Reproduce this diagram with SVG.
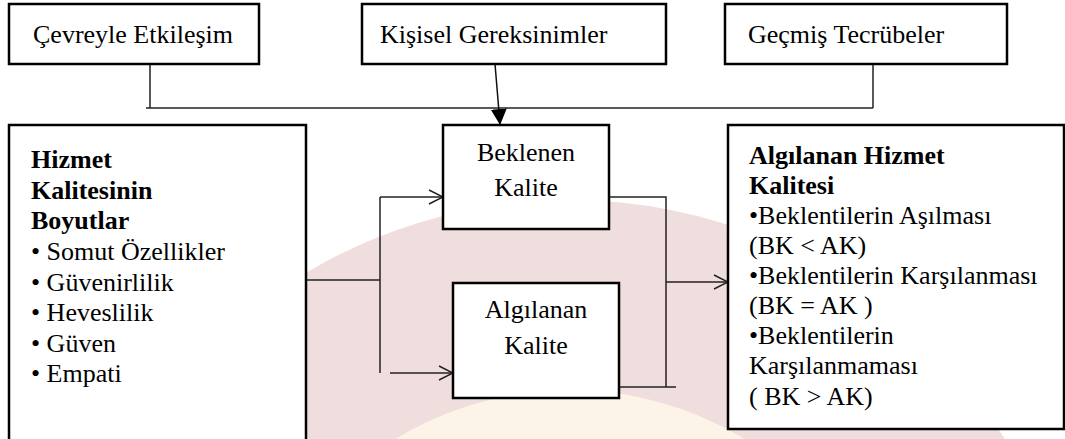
<svg xmlns="http://www.w3.org/2000/svg" width="1065" height="439" viewBox="0 0 1065 439">
<style>
.box{fill:#fff;stroke:#000;stroke-width:2.5}
.t{font-family:"Liberation Serif","Times New Roman",serif;font-size:26px;fill:#000}
.b{font-weight:bold}
.c{text-anchor:middle}
.ln{fill:none;stroke:#222;stroke-width:1.5}
</style>
<defs>
<marker id="open" viewBox="0 0 16 16" refX="15" refY="8" markerWidth="16" markerHeight="16" markerUnits="userSpaceOnUse" orient="auto">
<path d="M1,1 L15,8 L1,15" fill="none" stroke="#222" stroke-width="1.5"/>
</marker>
<marker id="filled" viewBox="0 0 16 16" refX="15" refY="8" markerWidth="16" markerHeight="16" markerUnits="userSpaceOnUse" orient="auto">
<path d="M0,0 L16,8 L0,16 Z" fill="#000"/>
</marker>
</defs>
<rect width="1065" height="439" fill="#fff"/>
<g id="watermark">
<circle cx="570" cy="715" r="515" fill="#f0dddd"/>
<circle cx="570" cy="725" r="335" fill="#fbf4e7"/>
</g>
<g id="connectors">
<polyline class="ln" points="150,64 150,108"/>
<polyline class="ln" points="146,108 873,108"/>
<polyline class="ln" points="873,62 873,108"/>
<line x1="495" y1="64" x2="500" y2="124" stroke="#111" stroke-width="1.5" marker-end="url(#filled)"/>
<polyline class="ln" points="306,280 380,280"/>
<polyline class="ln" points="380,197 380,373"/>
<polyline class="ln" points="380,197 443,197" marker-end="url(#open)"/>
<polyline class="ln" points="390,373 453,373" marker-end="url(#open)"/>
<polyline class="ln" points="609,197 666,197 666,387"/>
<polyline class="ln" points="619,387 676,387"/>
<polyline class="ln" points="666,282 728,282" marker-end="url(#open)"/>
</g>
<g id="cevreyle">
<rect class="box" x="9" y="4" width="250" height="60"/>
<text class="t" x="33" y="43">Çevreyle Etkileşim</text>
</g>
<g id="kisisel">
<rect class="box" x="362" y="4" width="304" height="60"/>
<text class="t" x="380" y="43">Kişisel Gereksinimler</text>
</g>
<g id="gecmis">
<rect class="box" x="725" y="4" width="282" height="60"/>
<text class="t" x="748" y="43">Geçmiş Tecrübeler</text>
</g>
<g id="boyutlar">
<rect class="box" x="9" y="125" width="297" height="330"/>
<text class="t b" x="31" y="168">Hizmet</text>
<text class="t b" x="31" y="199">Kalitesinin</text>
<text class="t b" x="31" y="229">Boyutlar</text>
<text class="t" x="31" y="260">• Somut Özellikler</text>
<text class="t" x="31" y="291">• Güvenirlilik</text>
<text class="t" x="31" y="321">• Heveslilik</text>
<text class="t" x="31" y="352">• Güven</text>
<text class="t" x="31" y="382">• Empati</text>
</g>
<g id="beklenen">
<rect class="box" x="443" y="125" width="166" height="104"/>
<text class="t c" x="526" y="161">Beklenen</text>
<text class="t c" x="526" y="196">Kalite</text>
</g>
<g id="algilanan">
<rect class="box" x="453" y="283" width="166" height="115"/>
<text class="t c" x="536" y="318">Algılanan</text>
<text class="t c" x="536" y="354">Kalite</text>
</g>
<g id="algilanan-hizmet">
<rect class="box" x="728" y="125" width="336" height="304"/>
<text class="t b" x="749" y="164">Algılanan Hizmet</text>
<text class="t b" x="749" y="194">Kalitesi</text>
<text class="t" x="749" y="224">•Beklentilerin Aşılması</text>
<text class="t" x="749" y="254">(BK &lt; AK)</text>
<text class="t" x="749" y="284">•Beklentilerin Karşılanması</text>
<text class="t" x="749" y="314">(BK = AK )</text>
<text class="t" x="749" y="344">•Beklentilerin</text>
<text class="t" x="749" y="374">Karşılanmaması</text>
<text class="t" x="749" y="405">( BK &gt; AK)</text>
</g>
</svg>
